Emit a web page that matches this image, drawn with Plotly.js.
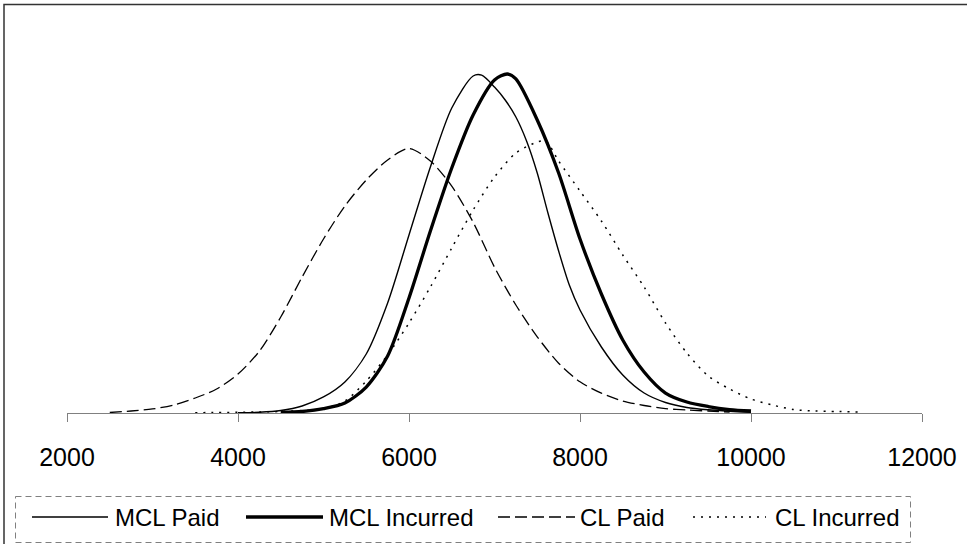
<!DOCTYPE html>
<html>
<head>
<meta charset="utf-8">
<script src="https://cdn.plot.ly/plotly-3.0.1.min.js"></script>
<style>
  html, body { margin: 0; padding: 0; background: #ffffff; }
  #chart { width: 967px; height: 544px; }
</style>
</head>
<body>
<div id="chart"></div>
<script>
// ---- data (density x 1e-4) ----
var seriesNames = ["MCL Paid", "MCL Incurred", "CL Paid", "CL Incurred"];

var mclPaidX = [4000, 4250, 4500, 4750, 5000, 5250, 5500, 5750, 6000, 6250, 6500, 6750, 6850, 7000, 7125, 7250, 7375, 7500, 7625, 7750, 7875, 8000, 8250, 8500, 8750, 9000, 9250, 9500, 9750, 10000];
var mclPaidY = [0.005, 0.013, 0.042, 0.117, 0.267, 0.517, 0.983, 1.833, 2.967, 4.10, 5.083, 5.617, 5.63, 5.433, 5.217, 4.933, 4.533, 4.0, 3.333, 2.70, 2.133, 1.717, 1.10, 0.633, 0.333, 0.175, 0.092, 0.053, 0.03, 0.013];

var mclIncX = [4500, 4750, 5000, 5250, 5500, 5750, 6000, 6250, 6500, 6750, 7000, 7150, 7250, 7500, 7750, 8000, 8250, 8500, 8750, 9000, 9250, 9500, 9750, 10000];
var mclIncY = [0.008, 0.025, 0.073, 0.167, 0.433, 0.95, 1.917, 3.033, 4.083, 4.967, 5.55, 5.65, 5.567, 4.883, 4.0, 2.90, 1.983, 1.217, 0.683, 0.333, 0.183, 0.108, 0.058, 0.033];

var clPaidX = [2500, 2750, 3000, 3250, 3500, 3750, 4000, 4250, 4500, 4750, 5000, 5250, 5500, 5750, 6000, 6250, 6500, 6750, 7000, 7250, 7500, 7750, 8000, 8250, 8500, 8750, 9000, 9250, 9500, 9750];
var clPaidY = [0.008, 0.033, 0.067, 0.133, 0.25, 0.40, 0.65, 1.03, 1.60, 2.267, 2.90, 3.45, 3.883, 4.217, 4.408, 4.20, 3.78, 3.18, 2.43, 1.80, 1.27, 0.83, 0.52, 0.33, 0.20, 0.125, 0.073, 0.05, 0.033, 0.017];

var clIncX = [3500, 3750, 4000, 4250, 4500, 4750, 5000, 5250, 5500, 5750, 6000, 6250, 6500, 6750, 7000, 7250, 7500, 7600, 7750, 8000, 8250, 8500, 8750, 9000, 9250, 9500, 9750, 10000, 10250, 10500, 10750, 11000, 11250];
var clIncY = [0.005, 0.008, 0.012, 0.017, 0.025, 0.042, 0.07, 0.20, 0.533, 0.967, 1.50, 2.10, 2.75, 3.383, 3.933, 4.333, 4.517, 4.533, 4.20, 3.70, 3.20, 2.633, 2.10, 1.50, 1.0, 0.617, 0.40, 0.233, 0.133, 0.058, 0.033, 0.025, 0.017];

var tickValues = [2000, 4000, 6000, 8000, 10000, 12000];
var tickLabels = ["2000", "4000", "6000", "8000", "10000", "12000"];

// ---- styles ----
var lineStyles = [
  {color: "#000000", width: 1.4, dash: "solid"},
  {color: "#000000", width: 3.3, dash: "solid"},
  {color: "#000000", width: 1.3, dash: "12px,5px"},
  {color: "#000000", width: 1.5, dash: "2px,6px"}
];
var xs = [mclPaidX, mclIncX, clPaidX, clIncX];
var ys = [mclPaidY, mclIncY, clPaidY, clIncY];

var traces = seriesNames.map(function (n, i) {
  return {
    type: "scatter", mode: "lines", name: n,
    x: xs[i], y: ys[i],
    line: {color: lineStyles[i].color, width: lineStyles[i].width, dash: lineStyles[i].dash, shape: "spline", smoothing: 0.8},
    hoverinfo: "x+y+name"
  };
});

// plot area geometry (px) -> paper conversion
var W = 967, H = 544;
var mL = 67, mR = 45, mT = 53, mB = 131;
var pw = W - mL - mR, ph = H - mT - mB;
function px(x) { return (x - mL) / pw; }
function py(y) { return (H - mB - y) / ph; }

var font = "Liberation Sans, Arial, Helvetica, sans-serif";

// manual legend
var legendItems = [
  {x0: 32, x1: 108, tx: 113},
  {x0: 246, x1: 323, tx: 327},
  {x0: 498, x1: 575, tx: 578},
  {x0: 693, x1: 766, tx: 773}
];
var shapes = [
  // outer chart border (top & left visible)
  {type: "rect", xref: "paper", yref: "paper", x0: px(4), x1: px(980), y0: py(4.5), y1: py(570),
   line: {color: "#333333", width: 1.5}, fillcolor: "rgba(0,0,0,0)"},
  // legend box
  {type: "rect", xref: "paper", yref: "paper", x0: px(15.5), x1: px(910.5), y0: py(496.5), y1: py(542.5),
   line: {color: "#808080", width: 1, dash: "6px,4px"}, fillcolor: "rgba(0,0,0,0)"}
];
var annotations = [];
legendItems.forEach(function (it, i) {
  shapes.push({type: "line", xref: "paper", yref: "paper", x0: px(it.x0), x1: px(it.x1), y0: py(517), y1: py(517),
    line: {color: lineStyles[i].color, width: lineStyles[i].width, dash: lineStyles[i].dash}});
  annotations.push({xref: "paper", yref: "paper", x: px(it.tx), y: py(517), xanchor: "left", yanchor: "middle",
    text: seriesNames[i], showarrow: false, font: {family: font, size: 24, color: "#000000"}});
});

var layout = {
  width: W, height: H,
  margin: {l: mL, r: mR, t: mT, b: mB, pad: 0},
  paper_bgcolor: "#ffffff", plot_bgcolor: "#ffffff",
  showlegend: false,
  font: {family: font, size: 25, color: "#000000"},
  xaxis: {
    range: [2000, 12000], tickvals: tickValues, ticktext: tickLabels,
    ticks: "outside", ticklen: 8, tickwidth: 1, tickcolor: "#808080",
    showline: true, linecolor: "#808080", linewidth: 1,
    showgrid: false, zeroline: false,
    tickfont: {family: font, size: 25, color: "#000000"},
    ticklabelstandoff: 14, fixedrange: true
  },
  yaxis: {range: [0, 6], visible: false, showgrid: false, zeroline: false, fixedrange: true},
  shapes: shapes,
  annotations: annotations
};

Plotly.newPlot("chart", traces, layout, {displayModeBar: false, staticPlot: true});
</script>
</body>
</html>
